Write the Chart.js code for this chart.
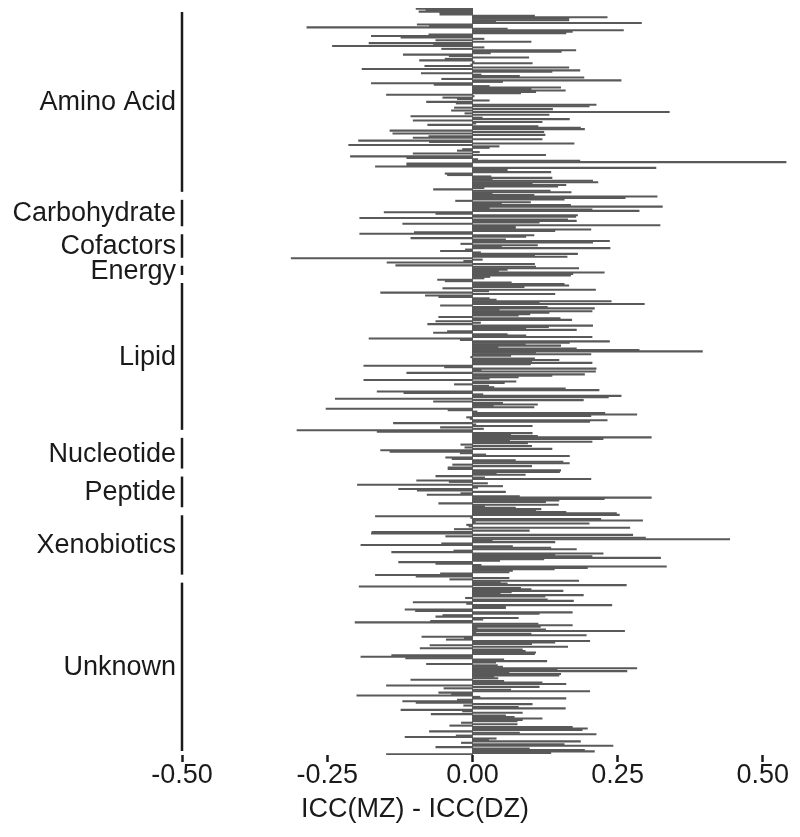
<!DOCTYPE html>
<html>
<head>
<meta charset="utf-8">
<script src="https://cdn.jsdelivr.net/npm/chart.js@4.4.1/dist/chart.umd.min.js"></script>
<style>
  html, body { margin: 0; padding: 0; background: #fff; }
  #wrap { width: 800px; height: 837px; }
</style>
</head>
<body>
<div id="wrap"><canvas id="iccChart"></canvas></div>
<script>
// metabolite classes, top to bottom
const groups = ['Amino Acid', 'Carbohydrate', 'Cofactors', 'Energy', 'Lipid',
    'Nucleotide', 'Peptide', 'Xenobiotics', 'Unknown'];

// ICC(MZ) - ICC(DZ) per metabolite
const aminoAcid = [-0.097, -0.08, -0.092, -0.056, -0.056, 0.107, 0.232, 0.166, 0.166, 0.04, 0.291, -0.095,
    -0.074, -0.285, 0.06, 0.26, 0.172, 0.161, -0.075, -0.174, -0.123, 0.02, -0.063, 0.101, -0.178, -0.067,
    -0.241, 0.02, -0.053, 0.178, 0.153, 0.031, -0.119, -0.04, 0.097, -0.047, -0.091, 0.003, 0.103, -0.003,
    -0.082, 0.166, -0.19, 0.185,
    0.137, -0.088, 0.015, 0.081, 0.192, -0.053, 0.256, 0.052, -0.174, -0.066, 0.029, 0.152, 0.101, 0.16,
    0.109, 0.083, -0.148, 0.003, -0.051, -0.026, 0.029, -0.079, -0.028, 0.213, 0.201, -0.031, 0.138, -0.036,
    0.339, -0.013, 0.132, -0.106, 0.017, 0.167, -0.102, 0.12, 0.006, -0.077, 0.113, 0.186, 0.193, -0.142,
    0.123, -0.137,
    0.125, -0.075, -0.102, 0.12, -0.196, -0.074, 0.175, -0.213, 0.046, 0.029, -0.017, -0.026, 0.012, -0.102,
    0.126, -0.21, -0.113, 0.009, 0.185, 0.54, -0.113, -0.113, -0.167, 0.316, 0.06, 0.06, 0.135, -0.047,
    -0.043, 0.032, 0.137, 0.034, 0.207, 0.216, 0.103, 0.161, 0.147, 0.02, -0.067, 0.134, 0.17, 0.034, 0.106];
const carbohydrate = [0.318, 0.263, 0.158, -0.029, 0.1, 0.05, 0.169, 0.327, 0.029, 0.206, 0.287, -0.152,
    -0.063, 0.181, 0.178, -0.194, 0.164, 0.179, 0.115, -0.12, 0.323, 0.074, 0.074, 0.204];
const cofactors = [0.142, -0.1, -0.194, 0.106, 0.092, -0.106, 0.057, 0.236, 0.207, -0.02, 0.112, 0.05,
    0.237, -0.012, -0.055, 0.014, 0.181, 0.107, 0.163, -0.312, 0.017, -0.015];
const energy = [-0.147, 0.107, -0.132, 0.109, 0.183, 0.06, 0.045, 0.227, 0.173, 0.169, 0.03, 0.02];
const lipid = [-0.06, -0.047, 0.067, 0.158, 0.166, 0.089, -0.051, 0.212, 0.028, -0.158, 0.142, -0.081,
    -0.058, 0.029, 0.041, 0.239, 0.115, 0.296, -0.055, 0.129, 0.21, 0.046, 0.206, 0.132, 0.099, 0.079,
    -0.058, 0.151,
    0.171, -0.063, 0.014, -0.077, 0.207, 0.131, 0.092, 0.179, -0.043, -0.067, 0.06, 0.092, 0.206, -0.178,
    -0.021, 0.236, 0.167, 0.091, 0.152, 0.044, 0.179, 0.287, 0.396, 0.109, 0.204, 0.066, -0.003, 0.107,
    0.149, 0.102, 0.206, 0.1, -0.187, -0.048, 0.213, 0.015, 0.212, -0.113, 0.193, 0.137, 0.079, 0.029,
    -0.187,
    0.075, 0.055, -0.031, 0.028, 0.037, 0.16, 0.218, -0.164, -0.118, 0.018, 0.256, 0.234, -0.236, 0.191,
    -0.067, 0.052, 0.112, 0.036, 0.106, -0.252, -0.042, 0.008, 0.228, 0.283, 0.204, -0.01, -0.004, 0.232,
    0.202, -0.136, 0.006, 0.103, -0.055, 0.019, -0.302, -0.164, 0.103];
const nucleotide = [0.066, 0.112, 0.308, 0.225, 0.064, 0.206, 0.095, -0.02, 0.102, -0.013, 0.137, -0.158,
    -0.142, -0.021, 0.023, 0.167, -0.046, -0.035, 0.074, 0.156, 0.167, -0.034, 0.102, -0.042, -0.042,
    0.152, 0.15];
const peptide = [0.041, 0.091, -0.063, 0.021, 0.204, -0.096, -0.04, 0.026, -0.198, 0.052, 0.009, -0.127,
    -0.095, 0.057, -0.02, -0.078, 0.081, 0.308, 0.227, 0.149, 0.126, -0.058, 0.148, 0.021, 0.074, 0.118,
    0.109];
const xenobiotics = [0.161, 0.248, 0.253, -0.167, -0.003, 0.221, 0.293, 0.005, 0.201, -0.01, -0.006, 0.271,
    -0.031, 0.098, -0.173, -0.174, 0.276, -0.046, 0.298, 0.443, 0.034, 0.142, -0.053, -0.192, 0.069, 0.135,
    0.179, -0.032, -0.139, 0.225, 0.142, 0.206, 0.324, 0.123, 0.047, -0.127, -0.063, 0.015, 0.334, 0.198,
    0.141, 0.069, 0.063, -0.055, -0.167, -0.097, 0.063];
const unknown = [-0.039, 0.183, 0.048, 0.06, 0.265, -0.195, 0.083, 0.101, 0.156, 0.067, 0.048, 0.191,
    0.125, -0.012, 0.129, 0.174, -0.102, -0.01, 0.24, 0.057, 0.057, -0.116, -0.098, 0.172, 0.115, -0.051,
    -0.063, 0.079, 0.018, -0.072, -0.202, 0.113,
    0.172, 0.117, 0.008, 0.126, 0.262, 0.006, 0.101, 0.196, -0.087, -0.014, -0.045, 0.202, 0.142, 0.102,
    -0.073, 0.164, -0.09, 0.086, 0.091, 0.109, 0.107, -0.139, -0.192, -0.115, 0.054, 0.128, 0.04, -0.079,
    0.043, 0.052, 0.283, 0.146, 0.266, 0.063, 0.152, 0.149, 0.037, 0.044, -0.106, 0.054, 0.12, 0.161,
    -0.148,
    0.115, -0.049, 0.066, 0.202, -0.058, -0.036, -0.199, 0.013, 0.161, -0.026, -0.12, -0.097, 0.103, -0.015,
    0.079, 0.16, -0.123, -0.017, 0.086, -0.071, 0.057, 0.072, 0.12, 0.086, 0.077, -0.019, 0.077, -0.039,
    0.172, 0.198, 0.189, -0.074, 0.081, 0.213, -0.028, -0.116, 0.041, 0.028, 0.186, -0.019, 0.158, 0.242,
    -0.063, 0.098, 0.193, 0.21, 0.135, -0.148];

const xTicks = [-0.5, -0.25, 0, 0.25, 0.5];

const groupValues = [aminoAcid, carbohydrate, cofactors, energy, lipid, nucleotide, peptide, xenobiotics, unknown];
const values = groupValues.flat();
const labels = values.map((v, i) => 'm' + (i + 1));

const FONT = "'Liberation Sans', Arial, Helvetica, sans-serif";
const INK = '#1a1a1a';
const BAR = '#595959';

// group brackets + names on the left side
const groupAxis = {
    id: 'groupAxis',
    afterDraw(chart) {
        const { ctx, chartArea } = chart;
        const y = chart.scales.y;
        const half = (y.getPixelForValue(1) - y.getPixelForValue(0)) / 2;
        let start = 0;
        ctx.save();
        ctx.strokeStyle = INK;
        ctx.lineWidth = 2.5;
        ctx.fillStyle = INK;
        ctx.font = '27px ' + FONT;
        ctx.textAlign = 'right';
        ctx.textBaseline = 'middle';
        groups.forEach((name, i) => {
            const n = groupValues[i].length;
            const top = y.getPixelForValue(start) - half + 4;
            const bottom = y.getPixelForValue(start + n - 1) + half - 4;
            ctx.beginPath();
            ctx.moveTo(chartArea.left, top);
            ctx.lineTo(chartArea.left, bottom);
            ctx.stroke();
            ctx.fillText(name, chartArea.left - 6, (top + bottom) / 2 + 1);
            start += n;
        });
        ctx.restore();
    }
};

const ctx = document.getElementById('iccChart').getContext('2d');

const myChart = new Chart(ctx, {
    type: 'bar',
    data: {
        labels: labels,
        datasets: [{
            data: values,
            backgroundColor: BAR,
            borderWidth: 0,
            barPercentage: 1,
            categoryPercentage: 1
        }]
    },
    options: {
        indexAxis: 'y',
        responsive: true,
        maintainAspectRatio: false,
        animation: false,
        layout: {
            padding: { top: 8, left: 30, right: 0, bottom: 0 }
        },
        plugins: {
            legend: { display: false },
            tooltip: { enabled: false },
            title: {
                display: true,
                position: 'bottom',
                text: 'ICC(MZ) - ICC(DZ)',
                color: INK,
                font: { family: FONT, size: 27, weight: 'normal', lineHeight: 1 },
                padding: { top: 7, bottom: 14 }
            }
        },
        scales: {
            x: {
                type: 'linear',
                min: -0.5,
                max: 0.564,
                afterBuildTicks: (scale) => {
                    scale.ticks = xTicks.map(v => ({ value: v }));
                },
                ticks: {
                    callback: (value) => value.toFixed(2),
                    color: INK,
                    padding: 0,
                    maxRotation: 0,
                    font: { family: FONT, size: 27, lineHeight: 1 }
                },
                grid: {
                    display: true,
                    drawOnChartArea: true,
                    drawTicks: true,
                    tickLength: 7,
                    // only the zero line shows inside the panel
                    color: (c) => (c.tick && c.tick.value === 0) ? BAR : 'rgba(0,0,0,0)',
                    lineWidth: 1,
                    tickColor: INK,
                    tickWidth: 2.5
                },
                border: { display: false }
            },
            y: {
                type: 'category',
                offset: true,
                ticks: { display: false },
                grid: { display: false },
                border: { display: false },
                afterFit: (scale) => {
                    scale.width = 152;
                }
            }
        }
    },
    plugins: [groupAxis]
});
</script>
</body>
</html>
